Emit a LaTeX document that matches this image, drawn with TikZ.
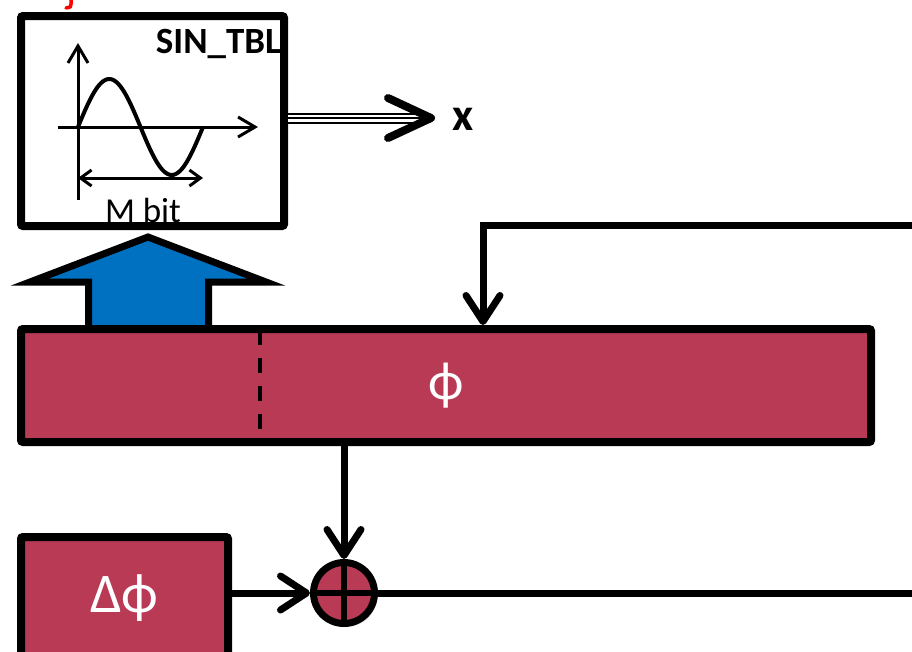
\documentclass[tikz,border=0pt]{standalone}
\usepackage{fontspec}
\setmainfont{Carlito}
\usetikzlibrary{arrows.meta,shadows}
\definecolor{crim}{RGB}{185,58,85}
\definecolor{tblue}{RGB}{0,112,192}
\begin{document}
\begin{tikzpicture}[x=1pt,y=-1pt,
  shad/.style={drop shadow={shadow xshift=3pt,shadow yshift=-3pt,opacity=0.25}},
  box/.style={draw=black,line width=8pt,rounded corners=2pt,inner sep=0pt,shad},
  conn/.style={line width=7pt,draw=black},
  barb/.style={-{Straight Barb[length=26pt,width=34pt,round]}},
  axis/.style={line width=3pt,-{Straight Barb[length=17pt,width=20pt]}},
  bigtxt/.style={text=white,font=\fontsize{56}{56}\selectfont},
]
\path[use as bounding box] (0,0) rectangle (912,651);
\clip (0,0) rectangle (912,651);

% red fragment of a cut-off label
\draw[red,line width=3.5pt,line cap=round] (71,-2) -- (71,4) .. controls (71,7) .. (66,8);

% blue arrow (drawn first, phi box overlaps its foot)
\draw[line width=7pt,fill=tblue,line join=miter,shad]
  (148,237) -- (266,282) -- (208.5,282) -- (208.5,329) -- (88.5,329) -- (88.5,282) -- (30,282) -- cycle;

% SIN_TBL box
\node[box,fill=white,minimum width=263pt,minimum height=210pt] (tbl) at (152.5,121) {};
\node[anchor=base east,inner sep=0pt,font=\bfseries\fontsize{37}{37}\selectfont] (tbllbl) at (281,53) {SIN\_TBL};
\draw[axis] (78,200) -- (78,43);
\draw[axis] (58,127) -- (258,127);
\draw[line width=4pt] plot[domain=0:360,samples=72,smooth] ({78+\x/360*125},{127-48*sin(\x)});
\draw[line width=3pt,{Straight Barb[length=11pt,width=16pt]}-{Straight Barb[length=11pt,width=16pt]}] (78,178) -- (203,178);
\node[anchor=base,inner sep=0pt,font=\fontsize{35}{35}\selectfont] (mbit) at (143,222) {M bit};

% output to x
\coordinate (xtip) at (431,118);
\node[anchor=base,inner sep=0pt,font=\bfseries\fontsize{46}{46}\selectfont] (xlbl) at (463,130) {x};
\draw[line width=2pt,double distance=7pt] ([yshift=3pt]tbl.east) -- ([xshift=-8pt]xtip);
\draw[line width=2pt] ([yshift=3pt]tbl.east) -- ([xshift=-8pt]xtip);
\draw[line width=8pt,line cap=round,line join=round] ([shift={(-43pt,20pt)}]xtip) -- (xtip) -- ([shift={(-43pt,-20pt)}]xtip);

% phase register
\node[box,fill=crim,minimum width=850pt,minimum height=113pt,bigtxt,font=\fontsize{54}{54}\selectfont] (phi) at (446,385.5) {ϕ};
\draw[line width=4pt,dash pattern=on 15.5pt off 12.5pt] (260,329.5) -- (260,438);

% delta phi box
\node[box,fill=crim,minimum width=207pt,minimum height=123pt,bigtxt] (dphi) at (124.5,598.5) {Δϕ};

% adder
\node[circle,draw=black,line width=7pt,fill=crim,minimum size=61pt,inner sep=0pt,shad] (add) at (344,593) {};
\draw[line width=6pt] (add.north) -- (add.south);
\draw[line width=6pt] (add.west) -- (add.east);

% connectors
\coordinate (fbR) at (912,225);
\coordinate (outR) at (912,593);
\draw[conn,barb] (add |- phi.south) -- (add.north);
\draw[conn,barb] (dphi.east |- add) -- (add.west);
\draw[conn] (add.east) -- (outR);
\draw[conn,barb] (fbR) -| ([xshift=37pt]phi.north);
\end{tikzpicture}
\end{document}
